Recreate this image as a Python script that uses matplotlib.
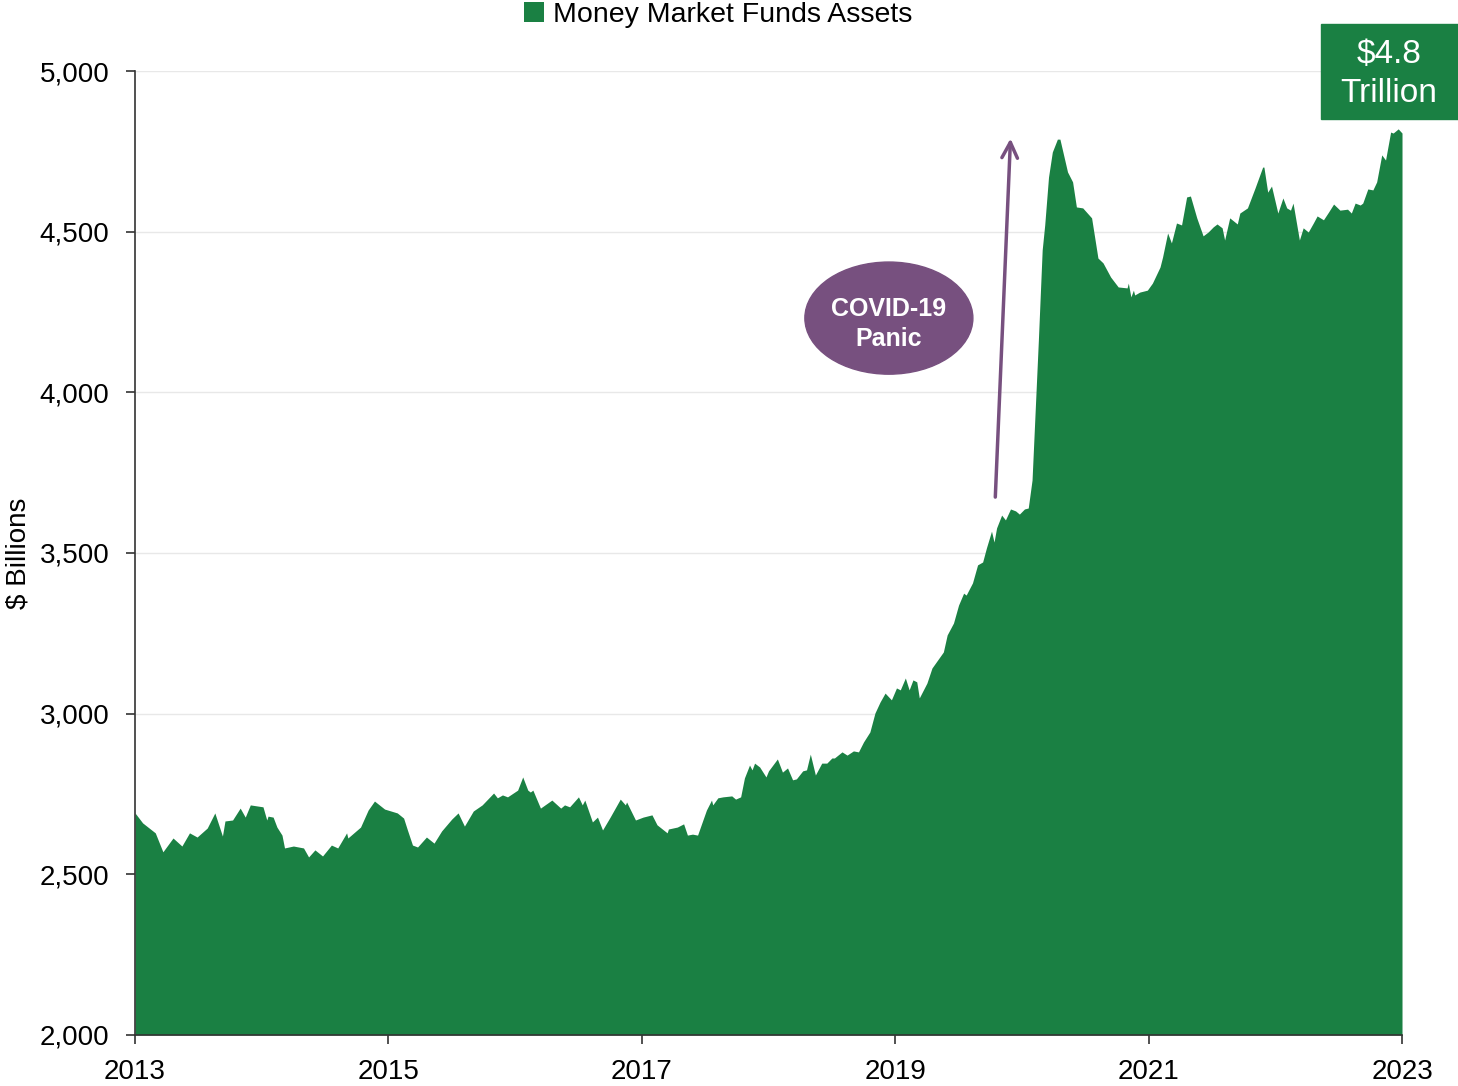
import matplotlib
matplotlib.use("Agg")
import matplotlib.pyplot as plt
from matplotlib.patches import Ellipse, Rectangle

plt.rcParams["font.family"] = ["Liberation Sans", "DejaVu Sans"]

# Money market fund assets, $ billions
years = [
    2013.00, 2013.06, 2013.16, 2013.22, 2013.30, 2013.37, 2013.43, 2013.49, 2013.57, 2013.63,
    2013.69, 2013.71, 2013.77, 2013.83, 2013.87, 2013.91, 2014.01, 2014.04, 2014.05, 2014.09,
    2014.12, 2014.16, 2014.18, 2014.25, 2014.33, 2014.37, 2014.42, 2014.48, 2014.55, 2014.60,
    2014.67, 2014.68, 2014.78, 2014.84, 2014.89, 2014.97, 2015.07, 2015.12, 2015.15, 2015.19,
    2015.23, 2015.30, 2015.36, 2015.42, 2015.50, 2015.55, 2015.60, 2015.67, 2015.74, 2015.83,
    2015.86, 2015.90, 2015.94, 2016.02, 2016.06, 2016.10, 2016.12, 2016.14, 2016.20, 2016.29,
    2016.36, 2016.39, 2016.43, 2016.50, 2016.53, 2016.55, 2016.61, 2016.65, 2016.69, 2016.75,
    2016.83, 2016.87, 2016.88, 2016.95, 2017.01, 2017.08, 2017.12, 2017.20, 2017.21, 2017.28,
    2017.33, 2017.36, 2017.40, 2017.44, 2017.51, 2017.55, 2017.56, 2017.60, 2017.64, 2017.71,
    2017.74, 2017.78, 2017.81, 2017.85, 2017.87, 2017.89, 2017.93, 2017.98, 2018.00, 2018.07,
    2018.11, 2018.15, 2018.19, 2018.22, 2018.27, 2018.30, 2018.33, 2018.37, 2018.42, 2018.46,
    2018.50, 2018.52, 2018.58, 2018.62, 2018.67, 2018.71, 2018.75, 2018.80, 2018.84, 2018.88,
    2018.92, 2018.97, 2019.01, 2019.04, 2019.08, 2019.11, 2019.14, 2019.17, 2019.19, 2019.25,
    2019.29, 2019.38, 2019.41, 2019.46, 2019.50, 2019.54, 2019.56, 2019.61, 2019.65, 2019.69,
    2019.72, 2019.76, 2019.78, 2019.80, 2019.84, 2019.87, 2019.91, 2019.95, 2019.98, 2020.02,
    2020.05, 2020.08, 2020.13, 2020.16, 2020.18, 2020.21, 2020.24, 2020.28, 2020.30, 2020.36,
    2020.40, 2020.43, 2020.48, 2020.55, 2020.60, 2020.64, 2020.70, 2020.76, 2020.83, 2020.84,
    2020.86, 2020.88, 2020.89, 2020.93, 2020.99, 2021.03, 2021.09, 2021.11, 2021.15, 2021.18,
    2021.22, 2021.26, 2021.30, 2021.33, 2021.38, 2021.43, 2021.47, 2021.51, 2021.54, 2021.58,
    2021.60, 2021.64, 2021.70, 2021.72, 2021.78, 2021.84, 2021.90, 2021.91, 2021.94, 2021.97,
    2022.02, 2022.06, 2022.09, 2022.12, 2022.14, 2022.19, 2022.22, 2022.26, 2022.30, 2022.33,
    2022.38, 2022.42, 2022.46, 2022.51, 2022.57, 2022.60, 2022.63, 2022.67, 2022.69, 2022.73,
    2022.77, 2022.80, 2022.84, 2022.87, 2022.91, 2022.93, 2022.97, 2023.00,
]
assets = [
    2691, 2660, 2629, 2570, 2613, 2588, 2629, 2616, 2644, 2691,
    2619, 2666, 2669, 2706, 2678, 2716, 2710, 2669, 2681, 2678,
    2647, 2622, 2582, 2588, 2582, 2554, 2576, 2557, 2591, 2582,
    2629, 2613, 2647, 2700, 2728, 2703, 2691, 2675, 2638, 2591,
    2585, 2616, 2597, 2635, 2672, 2691, 2650, 2697, 2716, 2753,
    2738, 2747, 2741, 2762, 2803, 2762, 2756, 2762, 2706, 2731,
    2706, 2716, 2710, 2741, 2716, 2731, 2663, 2678, 2638, 2678,
    2734, 2716, 2725, 2669, 2678, 2685, 2654, 2629, 2641, 2647,
    2657, 2622, 2625, 2622, 2700, 2731, 2716, 2738, 2741, 2744,
    2734, 2741, 2800, 2840, 2825, 2846, 2834, 2803, 2822, 2859,
    2818, 2831, 2794, 2797, 2822, 2825, 2874, 2809, 2846, 2846,
    2862, 2862, 2881, 2871, 2884, 2881, 2912, 2943, 3002, 3036,
    3064, 3043, 3080, 3074, 3111, 3074, 3105, 3099, 3049, 3095,
    3142, 3192, 3245, 3282, 3338, 3375, 3369, 3407, 3463, 3472,
    3516, 3568, 3534, 3578, 3618, 3603, 3637, 3631, 3621, 3637,
    3640, 3727, 4163, 4443, 4521, 4670, 4748, 4788, 4788, 4686,
    4655, 4577, 4574, 4543, 4418, 4403, 4359, 4328, 4325, 4340,
    4297, 4318, 4303, 4312, 4318, 4340, 4390, 4421, 4496, 4465,
    4527, 4521, 4608, 4611, 4543, 4487, 4499, 4515, 4524, 4512,
    4474, 4543, 4524, 4558, 4574, 4636, 4701, 4701, 4623, 4642,
    4558, 4605, 4574, 4567, 4589, 4474, 4512, 4499, 4527, 4549,
    4537, 4561, 4586, 4567, 4570, 4558, 4589, 4583, 4589, 4633,
    4630, 4655, 4739, 4723, 4810, 4807, 4820, 4807,
]

year_ticks = [2013, 2015, 2017, 2019, 2021, 2023]
value_ticks = [2000, 2500, 3000, 3500, 4000, 4500, 5000]

GREEN = "#1a8043"
PURPLE = "#77507f"

fig = plt.figure(figsize=(14.58, 10.86), dpi=100)
ax = fig.add_axes([0.0926, 0.047, 0.8690, 0.8876])

ax.fill_between(years, 2000, assets, color=GREEN, linewidth=0, zorder=2,
                label="Money Market Funds Assets")

ax.set_xlim(2013, 2023)
ax.set_ylim(2000, 5000)
ax.set_xticks(year_ticks)
ax.set_xticklabels([str(y) for y in year_ticks])
ax.set_yticks(value_ticks)
ax.set_yticklabels([f"{v:,}" for v in value_ticks])
ax.tick_params(axis="both", labelsize=20, length=6.5, width=1.2, color="#333333")
ax.tick_params(axis="x", pad=11)
ax.tick_params(axis="y", pad=12)
ax.grid(axis="y", color="#e8e8e8", linewidth=1, zorder=0)
ax.set_axisbelow(True)
for s in ["top", "right"]:
    ax.spines[s].set_visible(False)
for s in ["left", "bottom"]:
    ax.spines[s].set_color("#333333")
    ax.spines[s].set_linewidth(1.2)
    ax.spines[s].set_zorder(3)

ax.set_ylabel("$ Billions", fontsize=20)
ax.yaxis.set_label_coords(-0.082, 0.5)

ax.legend(loc="center", bbox_to_anchor=(718 / 1458, 1 - 15 / 1086),
          bbox_transform=fig.transFigure, frameon=False,
          fontsize=20.5, handlelength=0.7, handleheight=0.7, handletextpad=0.3,
          borderpad=0)

# COVID-19 annotation
ax.add_patch(Ellipse((2018.95, 4231), 1.326, 349, color=PURPLE, zorder=4))
ax.text(2018.95, 4212, "COVID-19\nPanic", ha="center", va="center", color="white",
        fontsize=18, fontweight="bold", linespacing=1.3, zorder=5)
ax.annotate("", xy=(2019.91, 4790), xytext=(2019.79, 3674),
            arrowprops=dict(arrowstyle="->", color=PURPLE, lw=2.5,
                            mutation_scale=28, shrinkA=0, shrinkB=0),
            zorder=5)

# $4.8 Trillion callout box
fig.patches.append(Rectangle((1321 / 1458, 1 - 119 / 1086), 137 / 1458, 95 / 1086,
                             transform=fig.transFigure, color=GREEN, zorder=5))
fig.text(1389 / 1458, 1 - 74 / 1086, "$4.8\nTrillion", ha="center", va="center",
         color="white", fontsize=24, linespacing=1.3, zorder=6)

fig.savefig("out.png", dpi=100)
